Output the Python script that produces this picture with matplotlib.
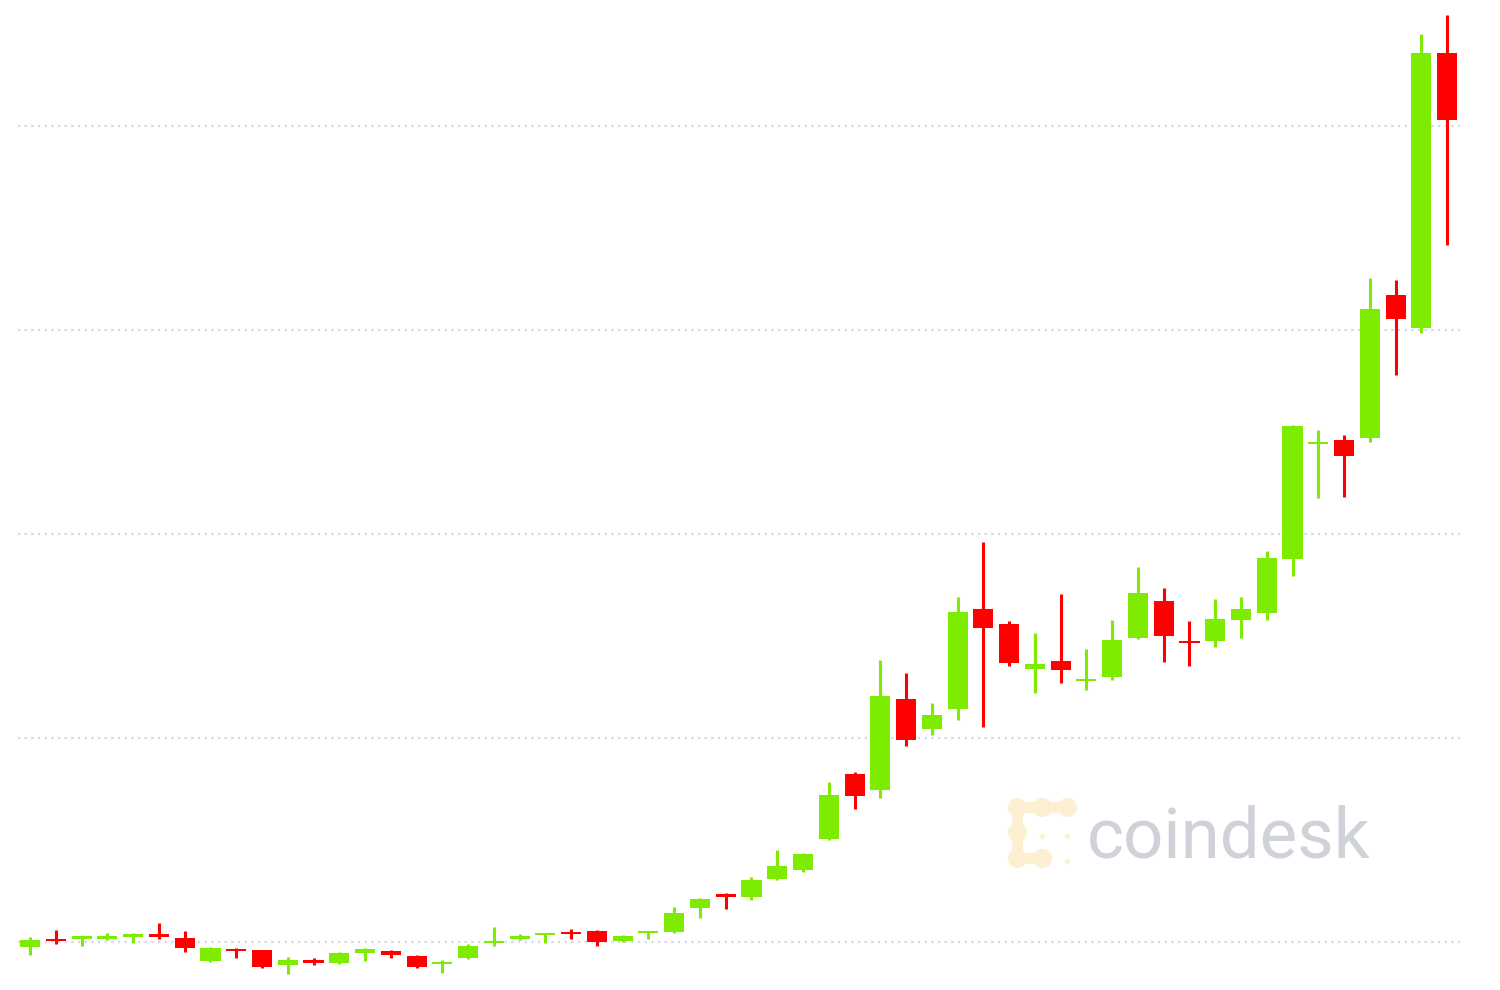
import matplotlib
matplotlib.use("Agg")
from matplotlib import pyplot as plt
import numpy as np

# daily OHLC (arbitrary price units, grid step = 10)
opens = [9.75, 10.15, 10.15, 10.17, 10.25, 10.39, 10.20, 9.07, 9.66, 9.61,
         8.87, 9.12, 8.97, 9.46, 9.56, 9.31, 8.92, 9.22, 9.95, 10.15,
         10.34, 10.49, 10.54, 10.05, 10.44, 10.49, 11.67, 12.30, 12.21, 13.09,
         13.53, 15.05, 18.24, 17.45, 21.91, 20.44, 21.42, 26.32, 25.59, 23.38,
         23.77, 22.79, 22.99, 24.90, 26.72, 24.71, 24.75, 25.78, 26.13, 28.77,
         34.41, 34.61, 34.71, 41.72, 40.10, 53.58]
highs = [10.25, 10.59, 10.29, 10.44, 10.44, 10.93, 10.54, 9.75, 9.71, 9.61,
         9.26, 9.22, 9.51, 9.71, 9.61, 9.36, 9.12, 9.90, 10.74, 10.39,
         10.44, 10.64, 10.59, 10.34, 10.54, 11.72, 12.16, 12.40, 13.19, 14.51,
         14.36, 17.84, 18.33, 23.82, 23.19, 21.72, 26.91, 29.61, 25.74, 25.15,
         27.06, 24.36, 25.78, 28.38, 27.35, 25.74, 26.81, 26.91, 29.17, 35.34,
         35.10, 34.85, 42.55, 42.45, 54.51, 55.44]
lows = [9.36, 9.90, 9.80, 10.10, 9.95, 10.15, 9.51, 9.02, 9.22, 8.73,
        8.43, 8.87, 8.92, 9.07, 9.22, 8.73, 8.48, 9.17, 9.80, 10.10,
        9.95, 10.15, 9.80, 10.00, 10.15, 10.44, 11.18, 11.62, 12.06, 13.04,
        13.43, 15.00, 16.52, 17.06, 19.61, 20.15, 20.88, 20.54, 23.53, 22.21,
        22.70, 22.35, 22.84, 24.85, 23.73, 23.53, 24.46, 24.90, 25.78, 27.94,
        31.76, 31.81, 34.51, 37.79, 39.85, 44.17]
closes = [10.10, 10.05, 10.20, 10.22, 10.39, 10.25, 9.71, 9.71, 9.56, 8.77,
          9.12, 8.97, 9.46, 9.66, 9.36, 8.77, 9.02, 9.80, 10.00, 10.29,
          10.39, 10.39, 10.00, 10.29, 10.49, 11.42, 12.11, 12.21, 13.04, 13.73,
          14.31, 17.21, 17.16, 22.06, 19.90, 21.13, 26.18, 25.39, 23.68, 23.63,
          23.33, 22.84, 24.80, 27.11, 25.00, 24.66, 25.83, 26.32, 28.82, 35.29,
          34.46, 33.82, 41.03, 40.54, 53.58, 50.29]

grid_levels = [10, 20, 30, 40, 50]

UP = "#7eec00"
DOWN = "#ff0000"
LOGO = "#fdf0d2"

fig = plt.figure(figsize=(15, 9.9), dpi=100)
ax = fig.add_axes([18 / 1500, 0, 1442 / 1500, 1])

o = np.array(opens)
h = np.array(highs)
l = np.array(lows)
c = np.array(closes)
x = np.arange(len(o))
colors = [UP if cc >= oo else DOWN for oo, cc in zip(o, c)]

for g in grid_levels:
    ax.axhline(g, color="#d3d7ea", lw=1.6, ls=(0, (1, 2)), zorder=0)

ax.vlines(x, l, h, colors=colors, lw=2.2, zorder=2)
body_bottom = np.minimum(o, c)
body_h = np.maximum(np.abs(c - o), 0.12)
ax.bar(x, body_h, bottom=body_bottom, width=0.78, color=colors, zorder=3)

ax.set_xlim(-0.47, 55.5)
ax.set_ylim(7.647, 56.18)
ax.axis("off")

# watermark: chain of dots + word mark
def fpos(px, py):
    return px / 1500, 1 - py / 990

chain = [fpos(*p) for p in [(1067, 807), (1042, 807), (1017, 807), (1017, 832),
                            (1017, 858), (1042, 858)]]
cx, cy = zip(*chain)
ax.plot(cx, cy, color=LOGO, lw=8, solid_capstyle="round",
        transform=fig.transFigure, zorder=1)
ax.scatter(cx, cy, s=190, color=LOGO, lw=0, transform=fig.transFigure, zorder=1)
dots = [fpos(*p) for p in [(1042, 836), (1067, 836), (1067, 861)]]
dx, dy = zip(*dots)
ax.scatter(dx, dy, s=14, color=LOGO, lw=0, transform=fig.transFigure, zorder=1)

fig.text(1087 / 1500, 1 - 858 / 990, "coindesk", fontsize=51, family="Roboto",
         color="#cfd2d9", va="baseline", ha="left", zorder=1)

fig.savefig("out.png", dpi=100, facecolor="white")
